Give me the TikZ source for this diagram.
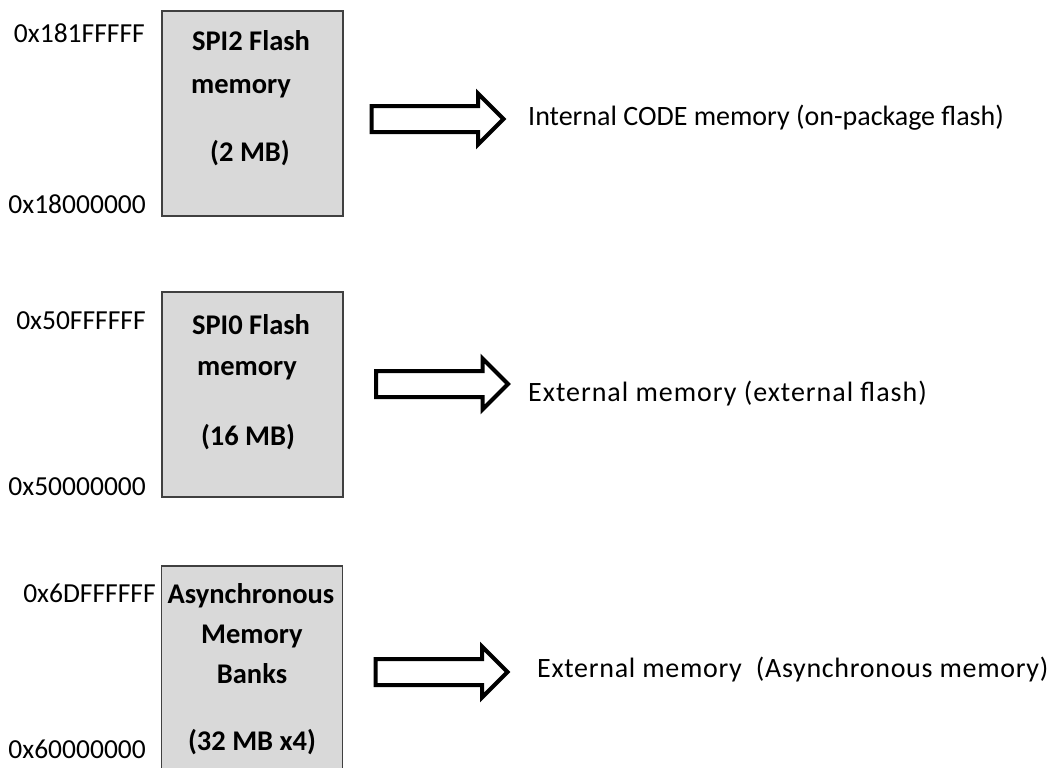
\documentclass[tikz,border=0pt]{standalone}
\usepackage{fontspec}
\setmainfont{Carlito}
\usetikzlibrary{shapes.arrows}

\tikzset{
    membox/.style={draw=black!75, fill=black!15, line width=1.5pt, minimum width=181pt, minimum height=205pt, inner sep=0pt},
    boxtext/.style={font=\fontsize{28.5}{30}\selectfont\bfseries, anchor=base, inner sep=0pt},
    addr/.style={font=\fontsize{27.5}{29}\selectfont, anchor=base east, inner sep=0pt},
    desc/.style={font=\fontsize{28}{30}\selectfont, anchor=base west, inner sep=0pt},
    bigarrow/.style={single arrow, draw=black, fill=white, line width=4pt, inner sep=0pt, text height=22pt, single arrow head extend=12.5pt, single arrow head indent=0pt, minimum height=132pt}
}

\begin{document}
\begin{tikzpicture}[x=1pt, y=-1pt]
    \useasboundingbox (0, 0) rectangle (1058, 768);
    \clip (0, 0) rectangle (1058, 768);

    % SPI2 flash
    \node [membox] (spiTwo) at (252.5, 113.5) {};
        \node [boxtext] (spiTwoA) at (251, 51) {SPI2 Flash};
        \node [boxtext] (spiTwoB) at (241, 93) {memory};
        \node [boxtext] (spiTwoC) at (250, 161) {(2 MB)};
    \node [addr] (spiTwoTop) at (145, 43) {0x181FFFFF};
    \node [addr] (spiTwoBot) at (146, 213) {0x18000000};
    \node [bigarrow] (arrTwo) at (431, 119) {};
    \node [desc] (descTwo) at (528, 125) {Internal CODE memory (on-package flash)};

    % SPI0 flash
    \node [membox] (spiZero) at (252.5, 394.5) {};
        \node [boxtext] (spiZeroA) at (251, 334) {SPI0 Flash};
        \node [boxtext] (spiZeroB) at (247, 375) {memory};
        \node [boxtext] (spiZeroC) at (248, 445) {(16 MB)};
    \node [addr] (spiZeroTop) at (146, 329) {0x50FFFFFF};
    \node [addr] (spiZeroBot) at (146, 495) {0x50000000};
    \node [bigarrow] (arrZero) at (435.5, 384) {};
    \node [desc] (descZero) at (528, 401) {\addfontfeature{LetterSpace=3.5}External memory (external flash)};

    % asynchronous banks
    \node [membox, minimum height=214pt] (asyncBanks) at (252, 673) {};
        \node [boxtext] (asyncA) at (251, 603) {Asynchronous};
        \node [boxtext] (asyncB) at (252, 643) {Memory};
        \node [boxtext] (asyncC) at (252, 683) {Banks};
        \node [boxtext] (asyncD) at (252, 750) {(32 MB x4)};
    \node [addr] (asyncTop) at (156, 602) {0x6DFFFFFF};
    \node [addr] (asyncBot) at (146, 758) {0x60000000};
    \node [bigarrow] (arrAsync) at (435, 672) {};
    \node [desc] (descAsync) at (537, 677) {\addfontfeature{LetterSpace=2.5}External memory\ \ (Asynchronous memory)};
\end{tikzpicture}
\end{document}
